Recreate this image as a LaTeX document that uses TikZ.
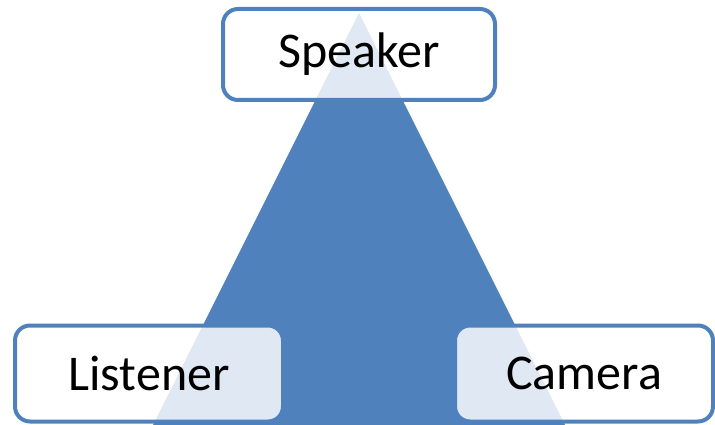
\documentclass[tikz,border=0pt]{standalone}
\usepackage{fontspec}
\setmainfont{Carlito}
\usepackage{xcolor}
\definecolor{roleblue}{HTML}{4F81BD}

\begin{document}
\begin{tikzpicture}[x=1pt, y=-1pt,
    rolebox/.style={draw=roleblue, line width=4pt, fill=white, fill opacity=0.82,
      text opacity=1, rounded corners=15pt, minimum height=92pt,
      font=\fontsize{50}{60}\selectfont}]
  \useasboundingbox (0,0) rectangle (715,425);

  % triangle behind the roles
  \begin{scope}
    \clip (0,0) rectangle (715,425);
    \fill[roleblue] (359,13) -- (145.5,440) -- (572.5,440) -- cycle;
  \end{scope}

  % roles
  \node[rolebox, minimum width=272pt, minimum height=91pt] (speaker) at (359,54.5) {Speaker};
  \node[rolebox, minimum width=268pt, minimum height=96pt] (listener) at (149,373.5) {Listener};
  \node[rolebox, minimum width=258pt, minimum height=96pt] (camera) at (584,373.5) {Camera};
\end{tikzpicture}
\end{document}
